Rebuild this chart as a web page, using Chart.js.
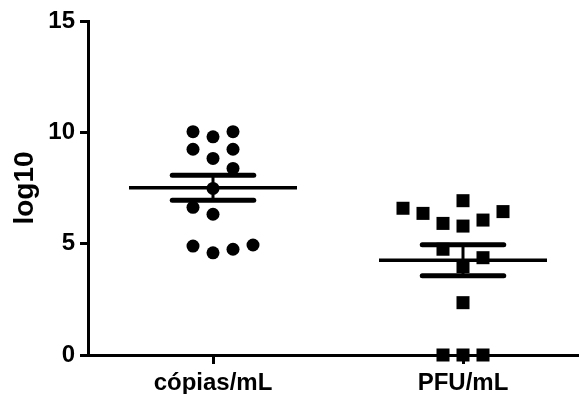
<!DOCTYPE html>
<html>
<head>
<meta charset="utf-8">
<script src="https://cdn.jsdelivr.net/npm/chart.js@4.4.1/dist/chart.umd.min.js"></script>
<style>
  html, body { margin: 0; padding: 0; background: #fff; }
  canvas { display: block; }
</style>
</head>
<body>
<canvas id="dotPlot" width="579" height="394"></canvas>
<script>
const categories = ['cópias/mL', 'PFU/mL'];
const copiasValues = [10.03, 9.80, 10.03, 9.24, 8.83, 9.24, 8.38, 7.48, 6.63, 6.32, 4.89, 4.59, 4.75, 4.94];
const pfuValues = [6.59, 6.36, 5.91, 6.93, 5.79, 6.06, 6.44, 4.75, 4.37, 3.97, 2.35, 0, 0, 0];
const yTicks = [0, 5, 10, 15];

// horizontal slot of each point inside its column (scatter spread)
const copiasSlots = [-1, 0, 1, -1, 0, 1, 1, 0, -1, 0, -1, 0, 1, 2];
const pfuSlots = [-3, -2, -1, 0, 0, 1, 2, -1, 1, 0, 0, -1, 0, 1];
const slotWidth = 0.08;

function mean(arr) {
  return arr.reduce((s, v) => s + v, 0) / arr.length;
}
function sem(arr) {
  const m = mean(arr);
  const sd = Math.sqrt(arr.reduce((s, v) => s + (v - m) ** 2, 0) / (arr.length - 1));
  return sd / Math.sqrt(arr.length);
}

function points(values, slots, col) {
  return values.map((v, i) => ({ x: col + slots[i] * slotWidth, y: v }));
}

function line(data, width, cap) {
  return {
    type: 'line',
    data: data,
    showLine: true,
    borderColor: '#000',
    borderWidth: width,
    borderCapStyle: cap,
    pointRadius: 0,
    fill: false,
    clip: false
  };
}

// mean line + SEM whiskers for one column
function summary(values, col) {
  const m = mean(values);
  const e = sem(values);
  return [
    line([{ x: col - 0.336, y: m }, { x: col + 0.336, y: m }], 3.5, 'butt'),
    line([{ x: col - 0.163, y: m + e }, { x: col + 0.163, y: m + e }], 5, 'round'),
    line([{ x: col - 0.163, y: m - e }, { x: col + 0.163, y: m - e }], 5, 'round'),
    line([{ x: col, y: m - e }, { x: col, y: m + e }], 3, 'butt')
  ];
}

const fontFamily = '"Liberation Sans", Arial, Helvetica, sans-serif';

new Chart(document.getElementById('dotPlot'), {
  type: 'scatter',
  data: {
    datasets: [
      {
        data: points(copiasValues, copiasSlots, 0),
        pointStyle: 'circle',
        pointRadius: 6.5,
        backgroundColor: '#000',
        borderWidth: 0,
        clip: false
      },
      {
        data: points(pfuValues, pfuSlots, 1),
        pointStyle: 'rect',
        pointRadius: 9.2,
        backgroundColor: '#000',
        borderWidth: 0,
        clip: false
      },
      ...summary(copiasValues, 0),
      ...summary(pfuValues, 1)
    ]
  },
  options: {
    responsive: false,
    animation: false,
    layout: { autoPadding: false, padding: { top: 21, right: 0, bottom: 0, left: 0 } },
    plugins: {
      legend: { display: false },
      tooltip: { enabled: false }
    },
    scales: {
      x: {
        type: 'linear',
        min: -0.5,
        max: 1.464,
        afterFit(scale) {
          scale.height = 39;
          scale.paddingLeft = 0;
          scale.paddingRight = 0;
        },
        afterBuildTicks(scale) {
          scale.ticks = categories.map((c, i) => ({ value: i }));
        },
        grid: { drawOnChartArea: false, drawTicks: true, tickLength: 9, color: '#000', lineWidth: 3 },
        border: { display: true, color: '#000', width: 3 },
        ticks: {
          color: '#000',
          padding: 5,
          maxRotation: 0,
          font: { family: fontFamily, size: 24, weight: 'bold' },
          callback: (v) => categories[v]
        }
      },
      y: {
        min: 0,
        max: 15,
        afterFit(scale) {
          scale.width = 88;
          scale.paddingTop = 0;
          scale.paddingBottom = 0;
        },
        afterBuildTicks(scale) {
          scale.ticks = yTicks.map((v) => ({ value: v }));
        },
        grid: { drawOnChartArea: false, drawTicks: true, tickLength: 8, color: '#000', lineWidth: 3 },
        border: { display: true, color: '#000', width: 3 },
        ticks: {
          color: '#000',
          padding: 5,
          font: { family: fontFamily, size: 24, weight: 'bold' }
        },
        title: {
          display: true,
          text: 'log10',
          color: '#000',
          padding: { top: 8, bottom: 0 },
          font: { family: fontFamily, size: 28, weight: 'bold' }
        }
      }
    }
  }
});
</script>
</body>
</html>
